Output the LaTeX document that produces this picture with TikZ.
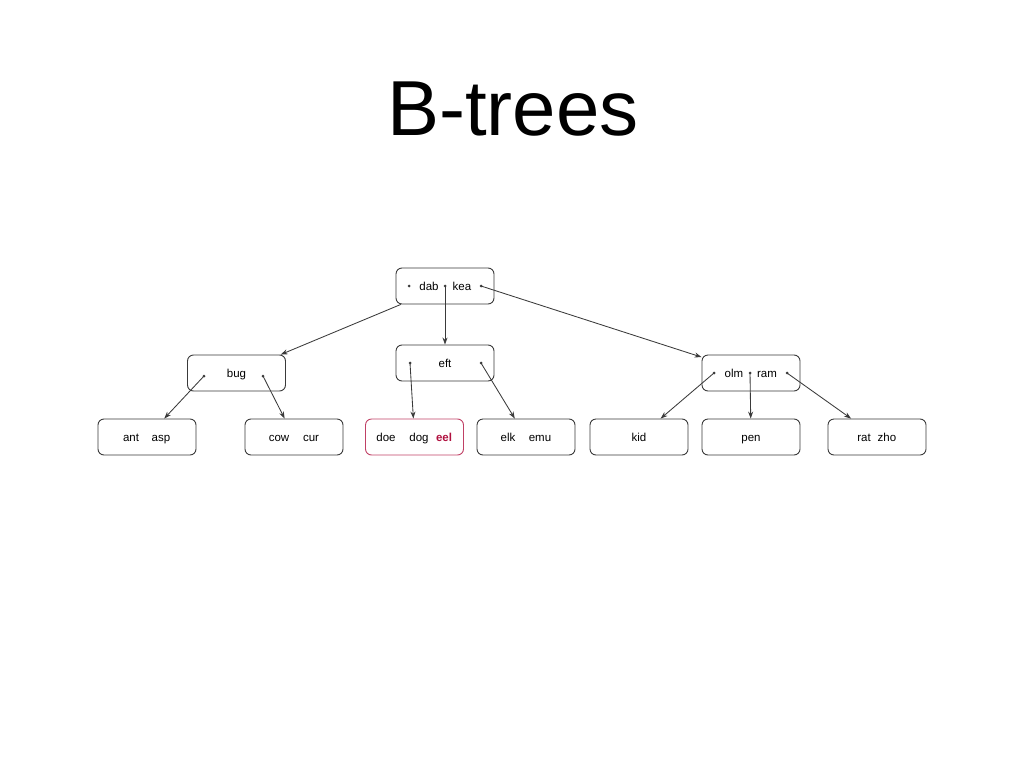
\documentclass[tikz,border=0pt]{standalone}
\usepackage{fontspec}
\setmainfont{Liberation Sans}
\usetikzlibrary{arrows.meta}
\definecolor{linegray}{HTML}{3A3A3A}
\definecolor{keyred}{HTML}{B0103F}
\tikzset{
  keybox/.style={draw=linegray, line width=0.9pt, rounded corners=6pt,
    minimum width=98pt, minimum height=36pt, inner sep=0pt, font=\fontsize{11.5}{13}\selectfont},
  redbox/.style={keybox, draw=keyred!80},
  ptr/.style={draw=linegray, line width=0.85pt, -{Stealth[length=7pt,width=5pt]}},
  dotmark/.style={fill=linegray, circle, inner sep=0pt, minimum size=3pt},
  lbl/.style={inner sep=0pt, font=\fontsize{11.5}{13}\selectfont, anchor=base}
}
\begin{document}
\begin{tikzpicture}[x=1pt,y=-1pt]
\useasboundingbox (0,0) rectangle (1024,768);
% title
\node[inner sep=0pt, anchor=base, font=\fontsize{78}{86}\selectfont] (title) at (513,135) {B-trees};
% internal nodes
\node[keybox] (root) at (445,286) {};
\node[keybox] (bug) at (236.5,373) {};
\node[keybox] (eft) at (445,363) {};
\node[keybox] (olm) at (751,373) {};
% leaves
\node[keybox] (ant) at (147,437) {};
\node[keybox] (cow) at (294,437) {};
\node[redbox] (doe) at (414.5,437) {};
\node[keybox] (elk) at (526,437) {};
\node[keybox] (kid) at (639,437) {};
\node[keybox] (pen) at (751,437) {};
\node[keybox] (rat) at (877,437) {};
% labels
\node[lbl] (t1) at (429,290) {dab};
\node[lbl] (t2) at (462,290) {kea};
\node[lbl] (t3) at (236.5,377) {bug};
\node[lbl] (t4) at (445,367) {eft};
\node[lbl] (t5) at (734,377) {olm};
\node[lbl] (t6) at (767,377) {ram};
\node[lbl] (t7) at (131,441) {ant};
\node[lbl] (t8) at (161,441) {asp};
\node[lbl] (t9) at (279,441) {cow};
\node[lbl] (t10) at (311,441) {cur};
\node[lbl] (t11) at (386,441) {doe};
\node[lbl] (t12) at (419,441) {dog};
\node[lbl, text=keyred, font=\fontsize{11.5}{13}\selectfont\bfseries] (t13) at (444,441) {eel};
\node[lbl] (t14) at (508,441) {elk};
\node[lbl] (t15) at (540,441) {emu};
\node[lbl] (t16) at (639,441) {kid};
\node[lbl] (t17) at (751,441) {pen};
\node[lbl] (t18) at (864,441) {rat};
\node[lbl] (t19) at (887,441) {zho};
% pointer dots
\node[dotmark] (r1) at (409,286) {};
\node[dotmark] (r2) at (445,286) {};
\node[dotmark] (r3) at (481,286) {};
\node[dotmark] (b1) at (204,376) {};
\node[dotmark] (b2) at (263,376) {};
\node[dotmark] (e1) at (410,363) {};
\node[dotmark] (e2) at (481,363) {};
\node[dotmark] (o1) at (714,373) {};
\node[dotmark] (o2) at (750,373) {};
\node[dotmark] (o3) at (787,373) {};
% pointers
\draw[ptr] (root) -- (bug);
\draw[ptr] (r2.center) -- (eft);
\draw[ptr] (r3.center) -- (olm);
\draw[ptr] (b1.center) -- (ant);
\draw[ptr] (b2.center) -- (cow);
\draw[ptr] (e1.center) -- (doe);
\draw[ptr] (e2.center) -- (elk);
\draw[ptr] (o1.center) -- (kid);
\draw[ptr] (o2.center) -- (pen);
\draw[ptr] (o3.center) -- (rat);
\end{tikzpicture}
\end{document}
